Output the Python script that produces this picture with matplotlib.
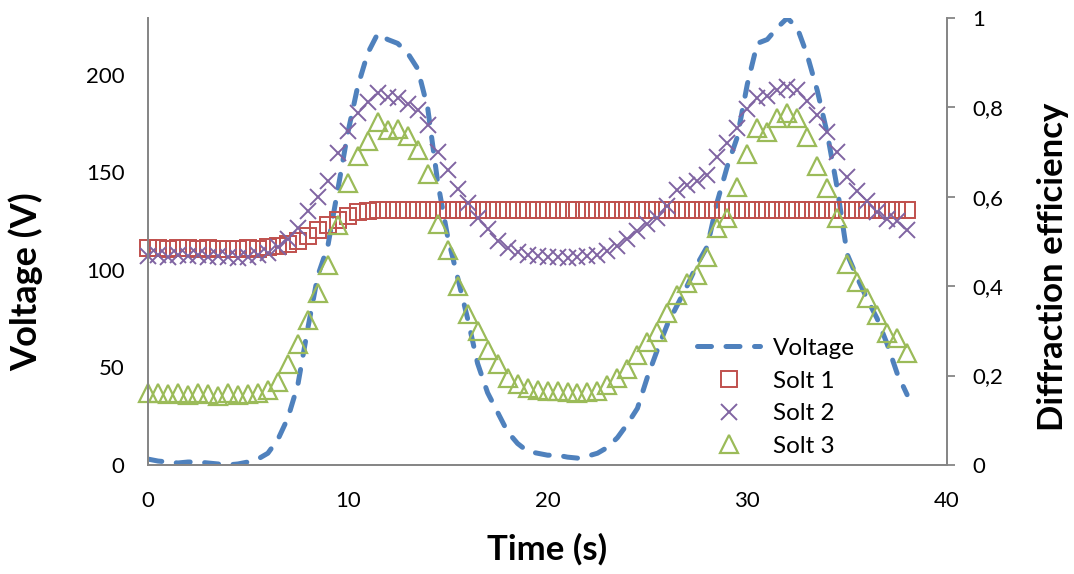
import matplotlib.pyplot as plt
from matplotlib.ticker import FuncFormatter

plt.rcParams['font.family'] = ['Lato', 'DejaVu Sans']

# time grid (s), one sample every 0.5 s
time = [i * 0.5 for i in range(77)]

voltage = [3, 2, 1.5, 1, 1.5, 1.5, 1, 0.5, 0, 0.5,
           1.5, 3, 6, 13, 24, 41, 70, 97, 112, 141,
           170, 194, 211, 221, 218, 216, 211, 203, 183, 145,
           117, 96, 75, 52, 37, 27, 17, 11, 7, 6,
           5, 5, 4, 3.5, 4.5, 6, 9, 14, 21, 29,
           45, 59, 72, 82, 92, 103, 112, 135, 153, 168,
           195, 216, 218, 224, 229, 224, 210, 192, 170, 142,
           108, 96, 85, 75, 62, 47, 36]

solt1 = [0.485, 0.485, 0.484, 0.485, 0.486, 0.484, 0.485, 0.484, 0.483, 0.484,
         0.485, 0.484, 0.487, 0.49, 0.495, 0.502, 0.512, 0.525, 0.536, 0.548,
         0.558, 0.565, 0.569, 0.571, 0.57, 0.57, 0.57, 0.57, 0.57, 0.57,
         0.57, 0.57, 0.57, 0.57, 0.57, 0.57, 0.57, 0.57, 0.57, 0.57,
         0.57, 0.57, 0.57, 0.57, 0.57, 0.57, 0.57, 0.57, 0.57, 0.57,
         0.57, 0.57, 0.57, 0.57, 0.57, 0.57, 0.57, 0.57, 0.57, 0.57,
         0.57, 0.57, 0.57, 0.57, 0.57, 0.57, 0.57, 0.57, 0.57, 0.57,
         0.57, 0.57, 0.57, 0.57, 0.57, 0.57, 0.57]

solt2 = [0.468, 0.47, 0.466, 0.469, 0.467, 0.47, 0.465, 0.468, 0.466, 0.463,
         0.466, 0.469, 0.475, 0.488, 0.505, 0.53, 0.568, 0.6, 0.635, 0.698,
         0.748, 0.787, 0.812, 0.832, 0.823, 0.82, 0.807, 0.795, 0.76, 0.7,
         0.66, 0.618, 0.585, 0.552, 0.528, 0.5, 0.485, 0.476, 0.47, 0.467,
         0.466, 0.465, 0.464, 0.465, 0.467, 0.47, 0.478, 0.49, 0.505, 0.523,
         0.54, 0.552, 0.58, 0.615, 0.627, 0.635, 0.648, 0.69, 0.72, 0.755,
         0.797, 0.822, 0.826, 0.84, 0.846, 0.838, 0.815, 0.783, 0.745, 0.7,
         0.645, 0.612, 0.59, 0.567, 0.55, 0.545, 0.526]

solt3 = [0.16, 0.162, 0.158, 0.16, 0.157, 0.161, 0.158, 0.155, 0.16, 0.156,
         0.158, 0.162, 0.168, 0.185, 0.225, 0.27, 0.324, 0.385, 0.447, 0.537,
         0.63, 0.692, 0.725, 0.767, 0.75, 0.752, 0.735, 0.705, 0.65, 0.54,
         0.48, 0.4, 0.338, 0.3, 0.258, 0.226, 0.195, 0.182, 0.172, 0.168,
         0.166, 0.165, 0.164, 0.162, 0.163, 0.166, 0.179, 0.195, 0.215, 0.246,
         0.275, 0.298, 0.34, 0.38, 0.407, 0.425, 0.465, 0.53, 0.553, 0.622,
         0.695, 0.754, 0.745, 0.776, 0.787, 0.776, 0.734, 0.67, 0.62, 0.553,
         0.45, 0.41, 0.374, 0.335, 0.296, 0.283, 0.25]

v_ticks = [0, 50, 100, 150, 200]
e_ticks = [0, 0.2, 0.4, 0.6, 0.8, 1]
x_ticks = [0, 10, 20, 30, 40]

BLUE = "#4F81BD"
RED = "#C0504D"
PURPLE = "#8064A2"
GREEN = "#9BBB59"
GRAY = "#868686"

fig = plt.figure(figsize=(10.74, 5.74), dpi=100)
ax = fig.add_axes([0.1378, 0.19, 0.7440, 0.7786])
ax2 = ax.twinx()

line_v, = ax.plot(time, voltage, color=BLUE, lw=3.6, linestyle=(0, (2.8, 2.9)),
                  dash_capstyle="round", label="Voltage")
ax.set_xlim(0, 40)
ax.set_ylim(0, 229)
ax.set_xticks(x_ticks)
ax.set_yticks(v_ticks)

m1, = ax2.plot(time, solt1, linestyle="none", marker="s", ms=11.5, mfc="none",
               mec=RED, mew=1.4, label="Solt 1", clip_on=False)
m2, = ax2.plot(time, solt2, linestyle="none", marker="x", ms=11.5,
               mec=PURPLE, mew=1.4, label="Solt 2", clip_on=False)
m3, = ax2.plot(time, solt3, linestyle="none", marker="^", ms=13, mfc="none",
               mec=GREEN, mew=1.6, label="Solt 3", clip_on=False)
ax2.set_ylim(0, 1)
ax2.set_yticks(e_ticks)
ax2.yaxis.set_major_formatter(FuncFormatter(lambda v, p: ("%g" % v).replace(".", ",")))

for a in (ax, ax2):
    a.spines["top"].set_visible(False)
    for s in ("left", "right", "bottom"):
        a.spines[s].set_color(GRAY)
        a.spines[s].set_linewidth(1.3)

ax.tick_params(axis="y", length=0, labelsize=16, pad=17)
ax.tick_params(axis="x", length=0, labelsize=16, pad=19)
ax2.tick_params(axis="y", length=6, color=GRAY, width=1.3, labelsize=16, pad=12)

ax.set_xlabel("Time (s)", fontsize=25, fontweight="bold")
ax.set_ylabel("Voltage (V)", fontsize=26, fontweight="bold")
ax2.set_ylabel("Diffraction efficiency", fontsize=25, fontweight="bold")
ax.xaxis.set_label_coords(0.5, -0.152)
ax.yaxis.set_label_coords(-0.131, 0.41)
ax2.yaxis.set_label_coords(1.113, 0.443)

leg = ax2.legend(handles=[line_v, m1, m2, m3], loc="lower left",
                 bbox_to_anchor=(0.687, 0.018), frameon=False, fontsize=17.5,
                 borderaxespad=0, borderpad=0,
                 handlelength=2.6, labelspacing=0.48, handletextpad=0.54)

fig.savefig("out.png", dpi=100)
